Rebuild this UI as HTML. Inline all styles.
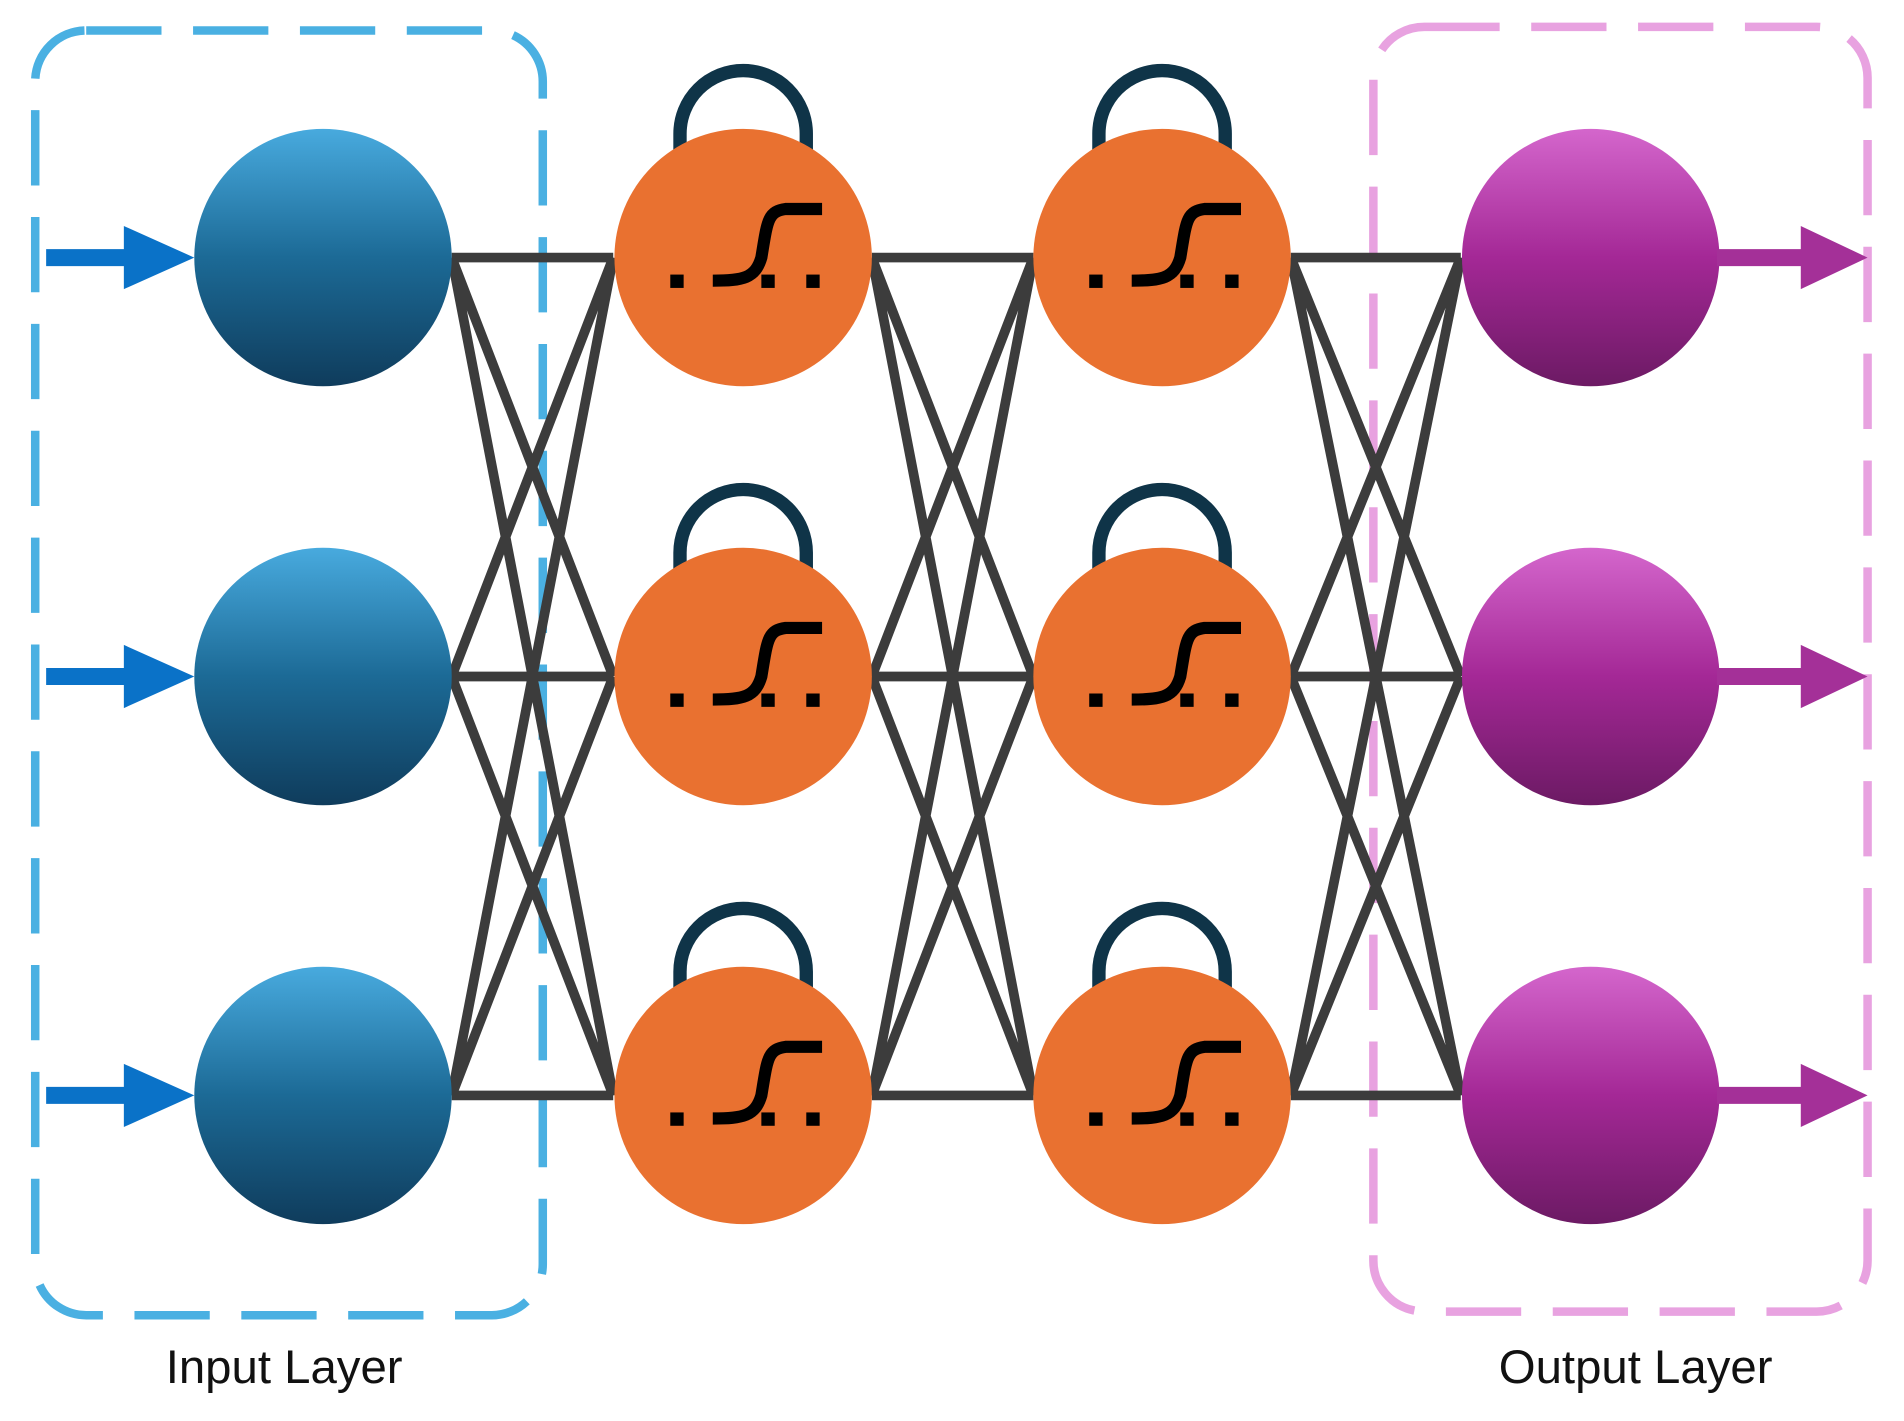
<!DOCTYPE html>
<html><head><meta charset="utf-8"><style>
html,body{margin:0;padding:0;background:#fff;}
svg{display:block;}
</style></head><body>
<svg width="1904" height="1421" viewBox="0 0 1568 1170" xmlns="http://www.w3.org/2000/svg">
<defs>
<linearGradient id="gb" x1="0" y1="0" x2="0" y2="1"><stop offset="0" stop-color="#48aade"/><stop offset="0.5" stop-color="#1c6a96"/><stop offset="1" stop-color="#0f3c5c"/></linearGradient>
<linearGradient id="gp" x1="0" y1="0" x2="0" y2="1"><stop offset="0" stop-color="#d466cc"/><stop offset="0.5" stop-color="#a42896"/><stop offset="1" stop-color="#6c1a64"/></linearGradient>
<g id="sig">
<rect x="-65" y="14" width="11" height="11" fill="#000"/>
<rect x="10" y="14" width="11" height="11" fill="#000"/>
<rect x="47" y="14" width="11" height="11" fill="#000"/>
<path d="M-30 19 C-5 19 5 17 10 0 C15 -30 15 -38 30 -40 L60 -40" fill="none" stroke="#000" stroke-width="10"/>
</g>
<g id="loop"><path d="M-52 142 L-52 110 A52 52 0 0 1 52 110 L52 142" fill="none" stroke="#0f3448" stroke-width="11"/></g>
</defs>
<!-- dashed boxes -->
<rect x="29" y="25" width="418" height="1058" rx="42" fill="none" stroke="#4ab0e2" stroke-width="7" stroke-dasharray="62 26"/>
<rect x="1131" y="22" width="407" height="1058" rx="42" fill="none" stroke="#e8a2e0" stroke-width="7" stroke-dasharray="62 26"/>
<!-- connections -->
<g stroke="#3c3c3c" stroke-width="8" fill="none">
<path d="M372 212 L505 212 M372 212 L505 557 M372 212 L505 902 M372 557 L505 212 M372 557 L505 557 M372 557 L505 902 M372 902 L505 212 M372 902 L505 557 M372 902 L505 902"/>
<path d="M718 212 L851 212 M718 212 L851 557 M718 212 L851 902 M718 557 L851 212 M718 557 L851 557 M718 557 L851 902 M718 902 L851 212 M718 902 L851 557 M718 902 L851 902"/>
<path d="M1063 212 L1203 212 M1063 212 L1203 557 M1063 212 L1203 902 M1063 557 L1203 212 M1063 557 L1203 557 M1063 557 L1203 902 M1063 902 L1203 212 M1063 902 L1203 557 M1063 902 L1203 902"/>
</g>
<!-- loops -->
<use href="#loop" x="612" y="0"/><use href="#loop" x="612" y="345"/><use href="#loop" x="612" y="690"/>
<use href="#loop" x="957" y="0"/><use href="#loop" x="957" y="345"/><use href="#loop" x="957" y="690"/>
<!-- input nodes -->
<circle cx="266" cy="212" r="106" fill="url(#gb)"/>
<circle cx="266" cy="557" r="106" fill="url(#gb)"/>
<circle cx="266" cy="902" r="106" fill="url(#gb)"/>
<!-- hidden -->
<g fill="#e97130">
<circle cx="612" cy="212" r="106"/><circle cx="612" cy="557" r="106"/><circle cx="612" cy="902" r="106"/>
<circle cx="957" cy="212" r="106"/><circle cx="957" cy="557" r="106"/><circle cx="957" cy="902" r="106"/>
</g>
<use href="#sig" x="617" y="212"/><use href="#sig" x="617" y="557"/><use href="#sig" x="617" y="902"/>
<use href="#sig" x="962" y="212"/><use href="#sig" x="962" y="557"/><use href="#sig" x="962" y="902"/>
<!-- output -->
<circle cx="1310" cy="212" r="106" fill="url(#gp)"/>
<circle cx="1310" cy="557" r="106" fill="url(#gp)"/>
<circle cx="1310" cy="902" r="106" fill="url(#gp)"/>
<!-- arrows -->
<g fill="#0a72c8">
<path d="M38 205 L102 205 L102 186 L160 212 L102 238 L102 219 L38 219 Z"/>
<path d="M38 550 L102 550 L102 531 L160 557 L102 583 L102 564 L38 564 Z"/>
<path d="M38 895 L102 895 L102 876 L160 902 L102 928 L102 909 L38 909 Z"/>
</g>
<g fill="#a43098">
<path d="M1414 205 L1483 205 L1483 186 L1538 212 L1483 238 L1483 219 L1414 219 Z"/>
<path d="M1414 550 L1483 550 L1483 531 L1538 557 L1483 583 L1483 564 L1414 564 Z"/>
<path d="M1414 895 L1483 895 L1483 876 L1538 902 L1483 928 L1483 909 L1414 909 Z"/>
</g>
<text x="234" y="1139" font-family="Liberation Sans, sans-serif" font-size="39" text-anchor="middle" fill="#111">Input Layer</text>
<text x="1347" y="1139" font-family="Liberation Sans, sans-serif" font-size="39" text-anchor="middle" fill="#111">Output Layer</text>
</svg>
</body></html>
